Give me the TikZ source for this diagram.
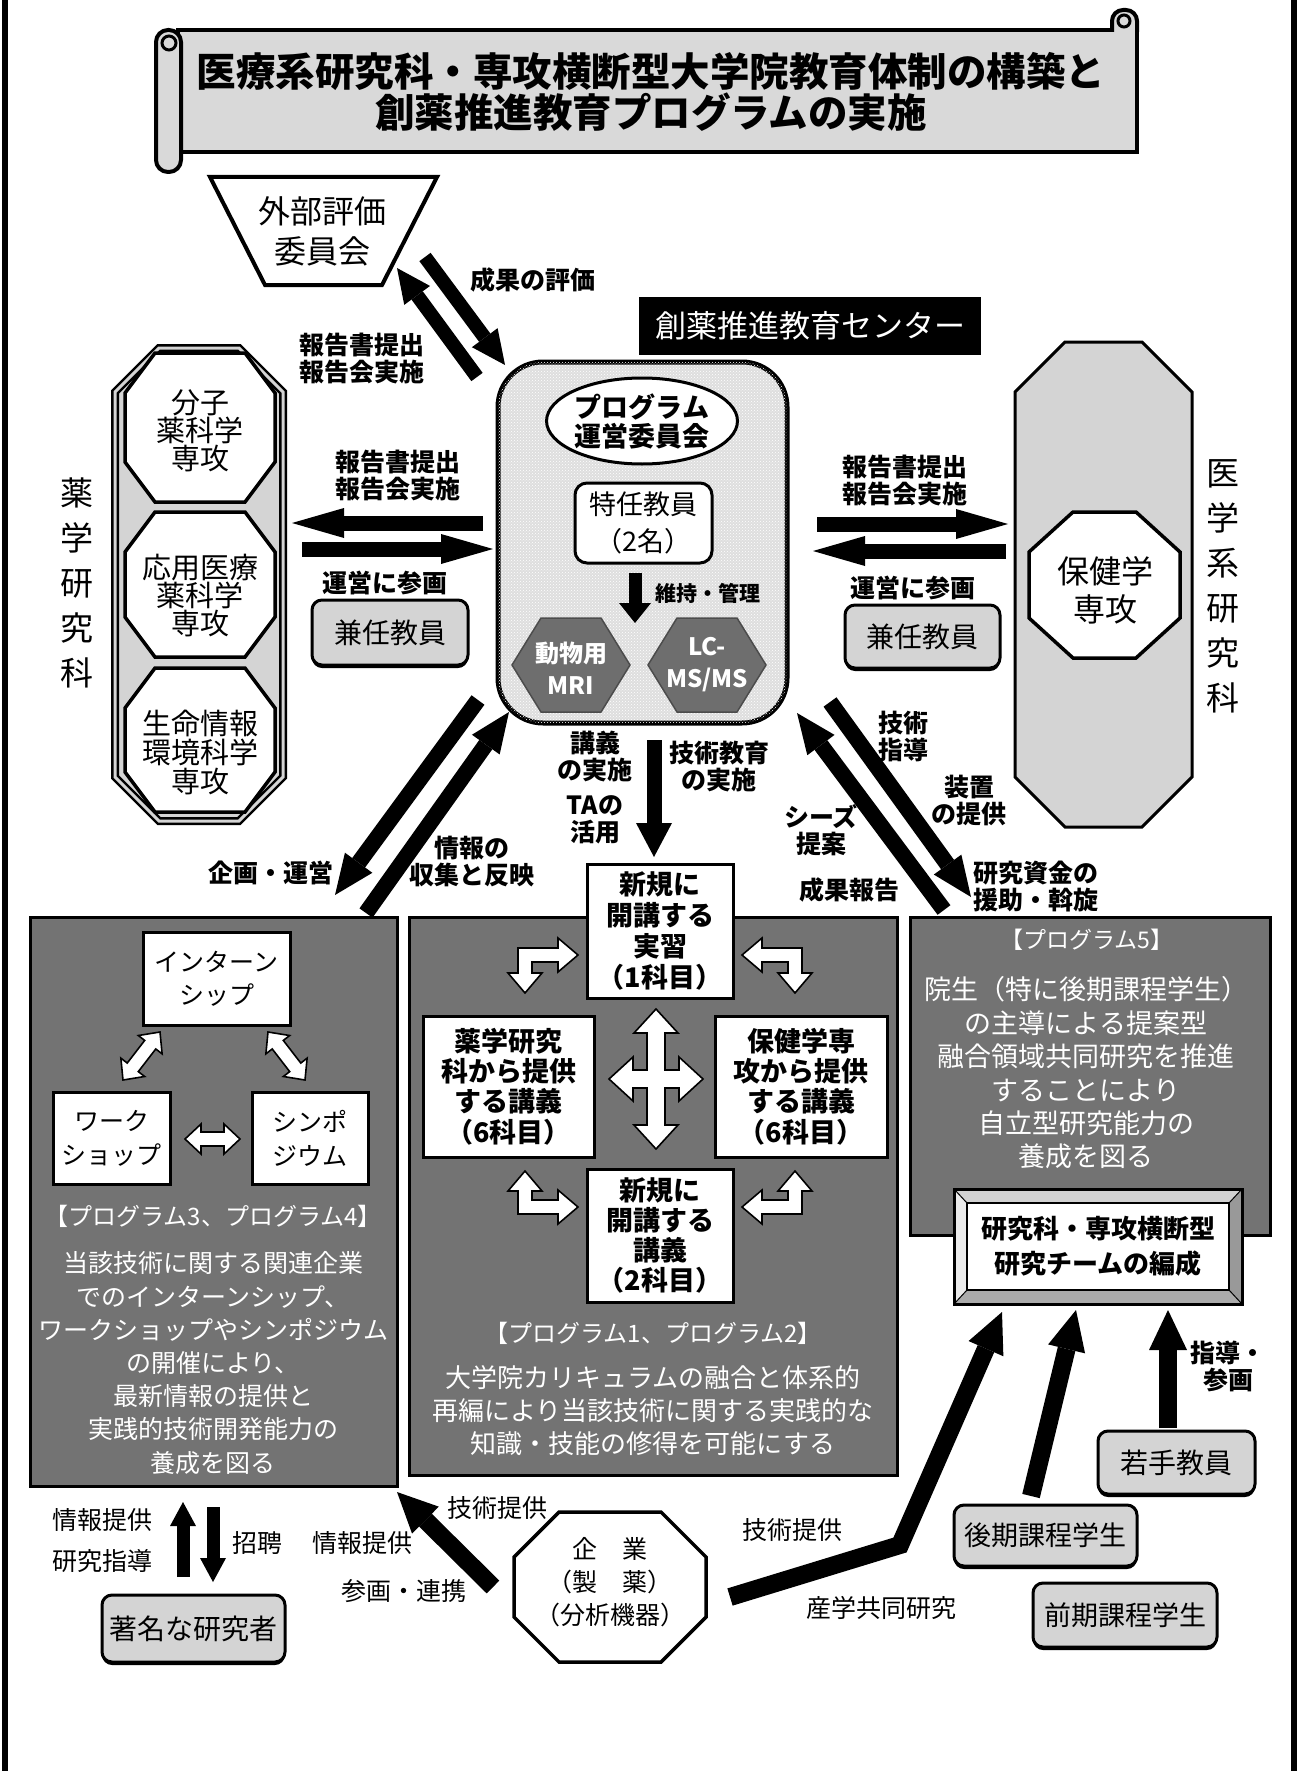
\documentclass[tikz,border=0pt]{standalone}
\usepackage{fontspec}
\setmainfont{Noto Sans CJK JP}
\usetikzlibrary{arrows.meta,calc,shadows,shapes.geometric,patterns}
\newcommand\fsz[2]{\fontsize{#1}{#2}\selectfont}
\definecolor{lg}{HTML}{D4D4D4}
\definecolor{dg}{HTML}{737373}
\definecolor{tg}{HTML}{D9D9D9}
\definecolor{cg}{HTML}{DEDEDE}
\definecolor{hg}{HTML}{6E6E6E}
% hollow double-headed straight arrow: #1 start, #2 end, #3 head length, #4 head half width, #5 shaft half width
\newcommand\hollowarrow[5]{%
  \coordinate (hA) at ($(#1)!#3!(#2)$);
  \coordinate (hB) at ($(#2)!#3!(#1)$);
  \draw[hollow] (#1) -- ($(hA)!#4!90:(#2)$) -- ($(hA)!#5!90:(#2)$) -- ($(hB)!#5!-90:(#1)$) -- ($(hB)!#4!-90:(#1)$) -- (#2)
    -- ($(hB)!#4!90:(#1)$) -- ($(hB)!#5!90:(#1)$) -- ($(hA)!#5!-90:(#2)$) -- ($(hA)!#4!-90:(#2)$) -- cycle;
}
\begin{document}
\begin{tikzpicture}[x=1pt,y=-1pt,
  lbl/.style={font=\bfseries\fsz{25}{27}, align=center, inner sep=0pt},
  lblr/.style={font=\fsz{25}{27}, align=center, inner sep=0pt},
  wtxt/.style={text=white, align=center, inner sep=0pt},
  blk/.style={line width=16pt, -{Triangle[length=40pt,width=34pt,line width=0pt]}},
  blkh/.style={line width=15pt, -{Triangle[length=52pt,width=30pt,line width=0pt]}},
  blkt/.style={line width=14pt, -{Triangle[length=34pt,width=32pt,line width=0pt]}},
  blkb/.style={line width=18pt, -{Triangle[length=40pt,width=38pt,line width=0pt]}},
  blks/.style={line width=13pt, -{Triangle[length=24pt,width=26pt,line width=0pt]}},
  hollow/.style={draw=black, fill=white, line width=1.6pt, line join=miter},
  gbox/.style={draw, line width=3pt, rounded corners=10pt, fill=lg, inner sep=0pt, drop shadow={shadow xshift=0pt,shadow yshift=-3pt,fill=black,opacity=1}},
  wbox/.style={draw, line width=3pt, fill=white, inner sep=0pt, align=center},
  dbox/.style={draw, line width=3pt, fill=dg, inner sep=0pt},
  oct/.style={draw, line width=3.5pt, fill=white, line join=miter},
]
\useasboundingbox (0,0) rectangle (1301,1771);
\fill[white] (0,0) rectangle (1301,1771);
\draw[line width=6pt] (5,0) -- (5,1771);
\draw[line width=6pt] (1294,0) -- (1294,1771);

% ---------- title scroll ----------
\draw[fill=tg, line width=4pt] (178,30) rectangle (1137,152);
\draw[fill=tg, line width=4pt, rounded corners=11pt] (1112,32) -- (1112,10) -- (1137,10) -- (1137,32);
\draw[line width=3pt] (1124,21) circle[radius=6pt];
\draw[fill=tg, line width=4pt, rounded corners=12pt] (156,30) rectangle (181,172);
\draw[line width=3pt] (169,43) circle[radius=7pt];
\node[font=\bfseries\fsz{39.5}{41}, align=center, inner sep=0pt] (title) at (651,92) {医療系研究科・専攻横断型大学院教育体制の構築と\\創薬推進教育プログラムの実施};

% ---------- external evaluation ----------
\draw[fill=white, line width=4pt, line join=miter] (210,177) -- (437,177) -- (382,285) -- (265,285) -- cycle;
\node[font=\fsz{32}{40}, align=center, inner sep=0pt] (gaibu) at (322,231) {外部評価\\委員会};
\coordinate (e1) at (477,377); \coordinate (e2) at (397,268);
\coordinate (e3) at (425,257); \coordinate (e4) at (505,365);
\draw[blkt] (e1) -- (e2);
\draw[blkt] (e3) -- (e4);
\node[lbl] (seika) at (533,280) {成果の評価};
\node[lbl] (hk0) at (362,358) {報告書提出\\報告会実施};

% ---------- center ----------
\node[fill=black, minimum width=342pt, minimum height=58pt, inner sep=0pt, text=white, font=\fsz{31}{31}] (ctrtitle) at (810,326) {創薬推進教育センター};
\node[draw, line width=5pt, rounded corners=45pt, fill=cg, postaction={pattern=crosshatch dots, pattern color=white}, minimum width=289pt, minimum height=361pt, inner sep=0pt] (center) at (642.5,542.5) {};
\node[draw, fill=white, ellipse, line width=3pt, minimum width=184pt, minimum height=86pt, inner sep=0pt, font=\bfseries\fsz{27}{29}, align=center] (unei) at (642,421) {プログラム\\運営委員会};
\node[draw, fill=white, line width=3pt, rounded corners=12pt, minimum width=137pt, minimum height=80pt, inner sep=0pt, font=\fsz{27}{37}, align=center] (tokunin) at (643.5,523) {特任教員\\（2名）};
\coordinate (ij1) at (635,573); \coordinate (ij2) at (635,623);
\draw[line width=13pt, -{Triangle[length=20pt,width=32pt,line width=0pt]}] (ij1) -- (ij2);
\node[lbl, font=\bfseries\fsz{21}{21}] (iji) at (708,593) {維持・管理};
\draw[fill=hg, draw=black!70, line width=1.5pt] (512,665) -- (541,618) -- (601,618) -- (630,665) -- (601,712) -- (541,712) -- cycle;
\node[wtxt, font=\bfseries\fsz{24}{32}] (mri) at (571,668) {動物用\\MRI};
\draw[fill=hg, draw=black!70, line width=1.5pt] (648,665) -- (677,618) -- (737,618) -- (766,665) -- (737,712) -- (677,712) -- cycle;
\node[wtxt, font=\bfseries\fsz{24}{32}] (lcms) at (707,665) {LC-\\MS/MS};

% ---------- left: pharmaceutical ----------
\draw[fill=lg, draw=black, double=lg, double distance=3pt, line width=2.5pt, line join=miter] (159,348) -- (239,348) -- (283,392) -- (283,777) -- (239,821) -- (159,821) -- (115,777) -- (115,392) -- cycle;
\draw[oct] (155,353) -- (245,353) -- (275,393) -- (275,462) -- (245,502) -- (155,502) -- (125,462) -- (125,393) -- cycle;
\draw[oct] (155,512) -- (245,512) -- (275,552) -- (275,617) -- (245,657) -- (155,657) -- (125,617) -- (125,552) -- cycle;
\draw[oct] (155,668) -- (245,668) -- (275,708) -- (275,772) -- (245,812) -- (155,812) -- (125,772) -- (125,708) -- cycle;
\node[font=\fsz{29}{28}, align=center, inner sep=0pt] (bunshi) at (200,431) {分子\\薬科学\\専攻};
\node[font=\fsz{29}{28}, align=center, inner sep=0pt] (oyo) at (200,596) {応用医療\\薬科学\\専攻};
\node[font=\fsz{29}{29}, align=center, inner sep=0pt] (seimei) at (200,752) {生命情報\\環境科学\\専攻};
\node[font=\fsz{33}{45}, align=center, inner sep=0pt] (yakugaku) at (77,583) {薬\\学\\研\\究\\科};

\coordinate (l1) at (483,523); \coordinate (l2) at (292,523);
\coordinate (l3) at (302,549); \coordinate (l4) at (493,549);
\draw[blkh] (l1) -- (l2);
\draw[blkh] (l3) -- (l4);
\node[lbl] (hk1) at (398,475) {報告書提出\\報告会実施};
\node[lbl] (sk1) at (385,583) {運営に参画};
\node[gbox, minimum width=156pt, minimum height=65pt, font=\fsz{28}{28}] (ken1) at (390,632.5) {兼任教員};

% ---------- right: medical ----------
\draw[fill=lg, line width=3pt, line join=miter] (1065,342) -- (1142,342) -- (1192,392) -- (1192,777) -- (1142,827) -- (1065,827) -- (1015,777) -- (1015,392) -- cycle;
\draw[oct] (1073,512) -- (1136,512) -- (1180,552) -- (1180,618) -- (1136,658) -- (1073,658) -- (1029,618) -- (1029,552) -- cycle;
\node[font=\fsz{32}{38}, align=center, inner sep=0pt] (hoken) at (1105,590) {保健学\\専攻};
\node[font=\fsz{33}{45}, align=center, inner sep=0pt] (igaku) at (1223,586) {医\\学\\系\\研\\究\\科};
\coordinate (r1) at (817,524); \coordinate (r2) at (1008,524);
\coordinate (r3) at (1006,551); \coordinate (r4) at (813,551);
\draw[blkh] (r1) -- (r2);
\draw[blkh] (r3) -- (r4);
\node[lbl] (hk2) at (905,480) {報告書提出\\報告会実施};
\node[lbl] (sk2) at (913,588) {運営に参画};
\node[gbox, minimum width=155pt, minimum height=63pt, font=\fsz{28}{28}] (ken2) at (922.5,636.5) {兼任教員};

% ---------- bottom boxes ----------
\node[dbox, minimum width=367pt, minimum height=569pt] (prog34) at (213.5,1201.5) {};
\node[dbox, minimum width=488pt, minimum height=558pt] (prog12) at (653,1196) {};
\node[dbox, minimum width=360pt, minimum height=318pt] (prog5) at (1090,1076) {};

% ---------- center lower arrows ----------
\coordinate (a1s) at (478,700); \coordinate (a1e) at (335,895);
\coordinate (a2s) at (366,913); \coordinate (a2e) at (509,712);
\coordinate (a3s) at (654,740); \coordinate (a3e) at (654,857);
\coordinate (a4s) at (944,910); \coordinate (a4e) at (797,713);
\coordinate (a5s) at (830,702); \coordinate (a5e) at (971,897);
\draw[blk] (a1s) -- (a1e);
\draw[blk] (a2s) -- (a2e);
\draw[line width=15pt, -{Triangle[length=34pt,width=36pt,line width=0pt]}] (a3s) -- (a3e);
\draw[blk] (a4s) -- (a4e);
\draw[blk] (a5s) -- (a5e);
\node[lbl] (kikaku) at (271,873) {企画・運営};
\node[lbl] (joho) at (472,862) {情報の\\収集と反映};
\node[lbl] (kogi) at (595,757) {講義\\の実施};
\node[lbl] (gijutsu) at (719,767) {技術教育\\の実施};
\node[lbl] (ta) at (595,820) {TAの\\活用};
\node[lbl] (gshido) at (903,736) {技術\\指導};
\node[lbl] (sochi) at (969,800) {装置\\の提供};
\node[lbl] (seeds) at (821,830) {シーズ\\提案};
\node[lbl] (seikah) at (849,890) {成果報告};
\node[lbl] (shikin) at (1036,887) {研究資金の\\援助・斡旋};

% ---------- left box contents ----------
\node[wbox, minimum width=147pt, minimum height=93pt, font=\fsz{25}{33}] (intern) at (216.5,978.5) {インターン\\シップ};
\node[wbox, minimum width=117pt, minimum height=92pt, font=\fsz{25}{34}] (wshop) at (111.5,1138) {ワーク\\ショップ};
\node[wbox, minimum width=116pt, minimum height=92pt, font=\fsz{25}{34}] (symp) at (310,1138) {シンポ\\ジウム};
\coordinate (la1) at (160,1032); \coordinate (la2) at (123,1080);
\coordinate (lb1) at (268,1032); \coordinate (lb2) at (305,1080);
\coordinate (lc1) at (185,1139); \coordinate (lc2) at (240,1139);
\hollowarrow{la1}{la2}{16pt}{15pt}{7pt}
\hollowarrow{lb1}{lb2}{16pt}{15pt}{7pt}
\hollowarrow{lc1}{lc2}{16pt}{15pt}{7pt}
\node[wtxt, font=\fsz{24}{24}] (p34) at (213,1216) {【プログラム3、プログラム4】};
\node[wtxt, font=\fsz{25}{33.2}] (p34txt) at (213,1363) {当該技術に関する関連企業\\でのインターンシップ、\\ワークショップやシンポジウム\\の開催により、\\最新情報の提供と\\実践的技術開発能力の\\養成を図る};

% ---------- middle box contents ----------
\node[wbox, minimum width=146pt, minimum height=134pt, font=\bfseries\fsz{27}{30.7}] (jisshu) at (660,931) {新規に\\開講する\\実習\\（1科目）};
\node[wbox, minimum width=171pt, minimum height=141pt, font=\bfseries\fsz{27}{30.3}] (yakukogi) at (508.5,1086.5) {薬学研究\\科から提供\\する講義\\（6科目）};
\node[wbox, minimum width=172pt, minimum height=141pt, font=\bfseries\fsz{27}{30.3}] (hokenkogi) at (801,1086.5) {保健学専\\攻から提供\\する講義\\（6科目）};
\node[wbox, minimum width=146pt, minimum height=133pt, font=\bfseries\fsz{27}{29.7}] (shinkogi) at (660,1235.5) {新規に\\開講する\\講義\\（2科目）};
\draw[hollow] (656,1009) -- (678,1033) -- (665,1033) -- (665,1070) -- (679,1070) -- (679,1057) -- (703,1079) -- (679,1101) -- (679,1088) -- (665,1088) -- (665,1125) -- (678,1125) -- (656,1149) -- (634,1125) -- (647,1125) -- (647,1088) -- (633,1088) -- (633,1101) -- (609,1079) -- (633,1057) -- (633,1070) -- (647,1070) -- (647,1033) -- (634,1033) -- cycle;
\draw[hollow] (578,955) -- (558,938) -- (558,948) -- (518,948) -- (518,973) -- (508,973) -- (525,993) -- (542,973) -- (532,973) -- (532,962) -- (558,962) -- (558,972) -- cycle;
\draw[hollow] (742,955) -- (762,938) -- (762,948) -- (802,948) -- (802,973) -- (812,973) -- (795,993) -- (778,973) -- (788,973) -- (788,962) -- (762,962) -- (762,972) -- cycle;
\draw[hollow] (525,1171) -- (542,1191) -- (532,1191) -- (532,1200) -- (558,1200) -- (558,1190) -- (578,1207) -- (558,1224) -- (558,1214) -- (518,1214) -- (518,1191) -- (508,1191) -- cycle;
\draw[hollow] (795,1171) -- (778,1191) -- (788,1191) -- (788,1200) -- (762,1200) -- (762,1190) -- (742,1207) -- (762,1224) -- (762,1214) -- (802,1214) -- (802,1191) -- (812,1191) -- cycle;
\node[wtxt, font=\fsz{24}{24}] (p12) at (653,1333) {【プログラム1、プログラム2】};
\node[wtxt, font=\fsz{26}{33}] (p12txt) at (653,1411) {大学院カリキュラムの融合と体系的\\再編により当該技術に関する実践的な\\知識・技能の修得を可能にする};

% ---------- right box contents ----------
\node[wtxt, font=\fsz{23}{23}] (p5) at (1087,940) {【プログラム5】};
\node[wtxt, font=\fsz{27}{33.4}] (p5txt) at (1086,1073) {院生（特に後期課程学生）\\の主導による提案型\\融合領域共同研究を推進\\することにより\\自立型研究能力の\\養成を図る};
\fill[black!18] (954,1189) -- (1242,1189) -- (1229,1203) -- (967,1203) -- cycle;
\fill[black!8] (954,1189) -- (967,1203) -- (967,1290) -- (954,1304) -- cycle;
\fill[black!40] (1242,1189) -- (1242,1304) -- (1229,1290) -- (1229,1203) -- cycle;
\fill[black!33] (954,1304) -- (1242,1304) -- (1229,1290) -- (967,1290) -- cycle;
\draw[line width=3pt] (954,1189) rectangle (1242,1304);
\draw[line width=1pt] (954,1189) -- (967,1203) (1242,1189) -- (1229,1203) (954,1304) -- (967,1290) (1242,1304) -- (1229,1290);
\node[draw, fill=white, line width=2pt, minimum width=262pt, minimum height=87pt, inner sep=0pt, font=\bfseries\fsz{26}{35}, align=center] (team) at (1098,1246.5) {研究科・専攻横断型\\研究チームの編成};

% ---------- bottom right ----------
\node[gbox, minimum width=157pt, minimum height=63pt, font=\fsz{28}{28}] (wakate) at (1176.5,1462.5) {若手教員};
\node[gbox, minimum width=183pt, minimum height=61pt, font=\fsz{27}{27}] (koki) at (1045.5,1535.5) {後期課程学生};
\node[gbox, minimum width=184pt, minimum height=64pt, font=\fsz{27}{27}] (zenki) at (1125,1615) {前期課程学生};
\coordinate (k1) at (730,1597); \coordinate (k2) at (900,1545); \coordinate (k3) at (1002,1312);
\draw[blkb] (k1) -- (k2) -- (k3);
\coordinate (g1) at (1031,1496); \coordinate (g2) at (1076,1310);
\draw[blkb] (g1) -- (g2);
\coordinate (w1) at (1168,1428); \coordinate (w2) at (1168,1310);
\draw[blkb] (w1) -- (w2);
\node[lblr] (gteikyo2) at (792,1530) {技術提供};
\node[lblr] (sangaku) at (881,1608) {産学共同研究};
\node[lbl] (shido) at (1228,1366) {指導・\\参画};

% ---------- bottom left ----------
\node[gbox, minimum width=183pt, minimum height=67pt, font=\fsz{28}{28}] (chomei) at (193.5,1628.5) {著名な研究者};
\coordinate (u1) at (183,1577); \coordinate (u2) at (183,1502);
\coordinate (d1) at (213,1507); \coordinate (d2) at (213,1582);
\draw[blks] (u1) -- (u2);
\draw[blks] (d1) -- (d2);
\node[lblr] (jteikyo1) at (102,1520) {情報提供};
\node[lblr] (kshido) at (102,1561) {研究指導};
\node[lblr] (shohei) at (257,1543) {招聘};
\node[lblr] (jteikyo2) at (362,1543) {情報提供};
\node[lblr] (sankaku) at (404,1591) {参画・連携};
\node[lblr] (gteikyo1) at (497,1508) {技術提供};
\coordinate (c1) at (493,1587); \coordinate (c2) at (397,1492);
\draw[blkb] (c1) -- (c2);
\draw[oct] (559,1512) -- (661,1512) -- (706,1557) -- (706,1617) -- (661,1662) -- (559,1662) -- (514,1617) -- (514,1557) -- cycle;
\node[font=\fsz{25}{33}, align=center, inner sep=0pt] (kigyo) at (610,1582) {企　業\\（製　薬）\\（分析機器）};
\end{tikzpicture}
\end{document}
